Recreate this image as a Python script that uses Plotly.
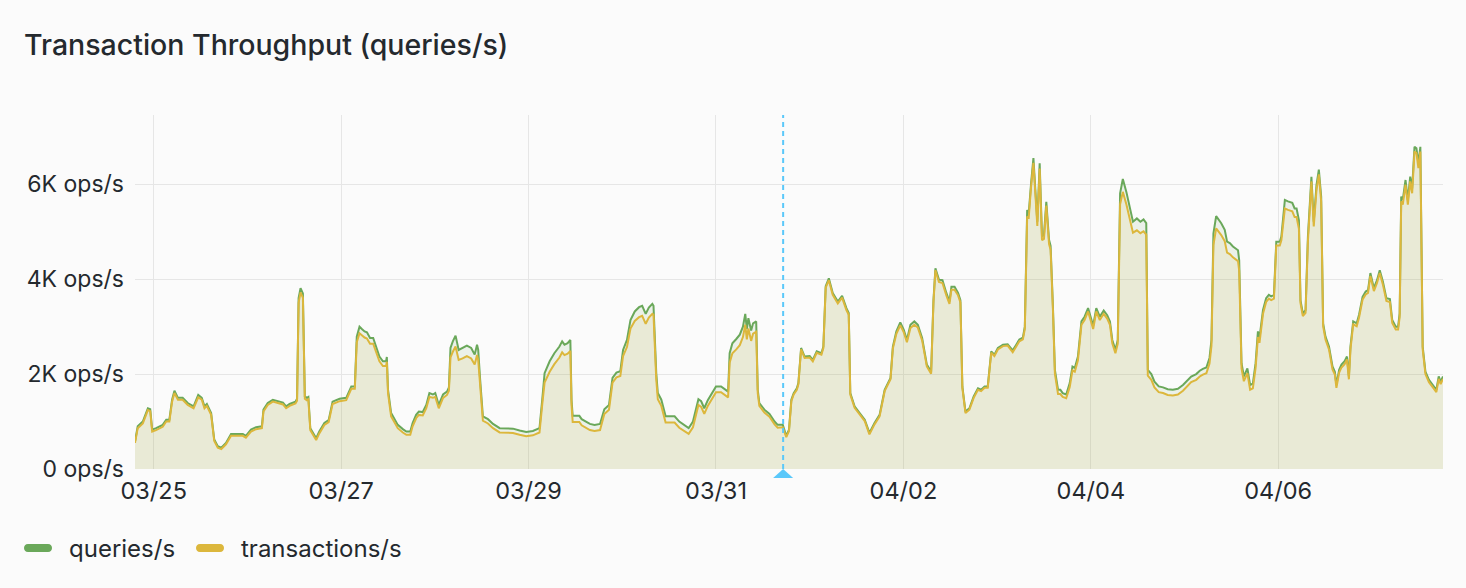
import pandas as pd
import plotly.graph_objects as go

# hours offset from 2024-03-25 00:00
hours = [-4.8, -4.1, -2.8, -1.5, -0.9, -0.4, 0.6, 2.3, 3.2, 4.0, 4.7, 5.3, 6.2, 7.4, 8.7, 10.2, 11.4, 12.3, 13.0, 13.6,
         14.7, 15.5, 16.4, 17.3, 18.5, 19.8, 21.1, 22.8, 23.6, 24.9, 26.2, 27.7, 28.1, 29.2, 30.5, 32.2, 33.1, 33.9, 34.8, 36.3,
         36.7, 37.1, 37.6, 38.2, 38.7, 39.2, 39.6, 40.1, 40.8, 41.6, 42.4, 43.7, 44.8, 45.8, 47.6, 49.3, 50.6, 51.5, 52.0, 52.7,
         53.3, 54.0, 54.6, 55.4, 56.2, 56.8, 57.8, 58.7, 59.5, 59.7, 60.0, 60.8, 61.7, 62.5, 63.8, 64.7, 65.7, 66.3, 67.2, 67.9,
         68.9, 69.8, 70.6, 71.5, 72.1, 73.0, 74.1, 75.1, 75.6, 76.0, 76.6, 77.3, 78.1, 79.1, 80.2, 81.3, 82.2, 82.8, 83.1, 83.6,
         84.3, 85.6, 86.9, 88.6, 90.3, 92.0, 93.7, 95.4, 97.1, 98.8, 99.5, 100.1, 101.4, 102.6, 103.9, 104.6, 105.2, 106.0, 106.7, 107.0,
         107.3, 109.0, 109.6, 110.8, 111.7, 112.9, 114.3, 115.4, 116.6, 117.5, 118.5, 119.5, 120.2, 121.2, 122.1, 123.2, 124.3, 125.1, 126.0, 126.8,
         127.7, 128.0, 128.3, 128.7, 129.1, 130.0, 131.1, 132.1, 133.4, 134.6, 135.9, 137.0, 138.1, 138.8, 139.5, 140.2, 141.0, 141.9, 143.2, 144.0,
         145.3, 146.6, 147.1, 147.5, 148.2, 149.2, 150.1, 150.9, 151.5, 151.9, 152.3, 153.0, 153.5, 154.3, 154.7, 155.1, 156.4, 157.7, 159.0, 159.8,
         161.1, 162.0, 162.7, 163.3, 163.9, 164.7, 165.1, 165.8, 166.7, 168.0, 168.8, 169.8, 171.0, 171.5, 172.1, 172.9, 173.9, 175.2, 176.3, 177.4,
         178.0, 178.4, 179.5, 180.8, 182.1, 183.3, 184.6, 185.9, 187.2, 188.7, 189.3, 190.2, 191.2, 192.1, 192.9, 193.8, 194.8, 195.7, 196.8, 198.0,
         199.1, 199.7, 200.2, 201.1, 202.0, 203.0, 203.8, 204.3, 205.1, 206.0, 206.6, 207.1, 207.9, 208.9, 210.0, 211.1, 211.9, 212.8, 213.6, 214.5,
         215.3, 216.2, 217.5, 218.7, 220.0, 220.9, 221.7, 222.6, 223.1, 223.7, 224.1, 224.7, 225.3, 225.8, 226.3, 226.9, 227.5, 228.0, 228.6, 229.3,
         229.7, 230.3, 230.8, 231.6, 232.2, 232.8, 233.7, 234.6, 235.3, 235.9, 236.7, 237.6, 238.4, 239.3, 239.9, 240.6, 241.4, 242.3, 243.3, 244.2,
         244.9, 245.5, 246.3, 246.9, 247.5, 248.2, 249.1, 249.9, 250.8, 251.8, 252.7, 253.5, 254.2, 254.6, 255.5, 256.3, 257.4, 258.5, 259.7, 261.0,
         262.3, 263.6, 264.8, 265.7, 267.0, 267.9, 268.7, 269.6, 270.4, 270.9, 271.4, 272.1, 273.4, 274.3, 274.9, 275.6, 276.4, 277.2, 277.7, 278.0,
         278.6, 279.2, 280.1, 280.8, 281.5, 282.2, 282.8, 283.2, 284.1, 284.9, 285.6, 286.2, 286.9, 287.5, 288.4, 288.8, 289.7, 290.5, 291.6, 292.2,
         292.7, 293.3, 293.7, 294.3, 295.0, 295.6, 296.5, 297.1, 297.8, 298.4, 299.0, 299.5, 300.1, 301.0, 301.9, 302.5, 302.9, 303.6, 304.2, 305.0,
         305.6, 306.1, 306.5, 307.2, 308.1, 308.7, 309.6, 310.4, 311.0, 311.6, 312.5, 313.3, 314.0, 314.8, 315.7, 316.6, 317.2, 318.1, 318.7, 319.1,
         319.5, 319.9, 320.6, 321.2, 321.8, 322.3, 322.9, 323.4, 323.9, 324.4, 324.6, 325.0, 325.7, 326.6, 327.6, 328.5, 329.1, 329.6, 330.2]

# queries/s in thousands
queries_k = [0.58, 0.90, 1.00, 1.28, 1.26, 0.83, 0.86, 0.93, 1.04, 1.04, 1.46, 1.65, 1.50, 1.50, 1.39, 1.32, 1.56, 1.50, 1.32, 1.37,
             1.18, 0.62, 0.48, 0.45, 0.55, 0.74, 0.74, 0.74, 0.70, 0.83, 0.88, 0.90, 1.25, 1.39, 1.46, 1.43, 1.40, 1.32, 1.37, 1.42,
             1.48, 3.60, 3.81, 3.70, 1.53, 1.50, 1.52, 0.86, 0.76, 0.65, 0.79, 0.97, 1.03, 1.42, 1.48, 1.50, 1.74, 1.74, 2.79, 3.00,
             2.95, 2.90, 2.88, 2.76, 2.76, 2.62, 2.37, 2.27, 2.27, 2.36, 1.67, 1.18, 1.04, 0.93, 0.84, 0.79, 0.79, 0.97, 1.14, 1.21,
             1.20, 1.35, 1.60, 1.57, 1.60, 1.35, 1.57, 1.63, 1.72, 2.55, 2.69, 2.81, 2.51, 2.55, 2.60, 2.55, 2.41, 2.62, 2.51, 1.88,
             1.11, 1.05, 0.95, 0.86, 0.86, 0.85, 0.81, 0.78, 0.80, 0.86, 1.46, 2.02, 2.27, 2.44, 2.58, 2.69, 2.62, 2.65, 2.72, 1.46,
             1.12, 1.12, 1.05, 1.00, 0.95, 0.93, 0.95, 1.26, 1.35, 1.92, 2.03, 2.06, 2.51, 2.72, 3.14, 3.32, 3.41, 3.44, 3.27, 3.40,
             3.48, 3.44, 2.72, 2.02, 1.60, 1.46, 1.11, 1.11, 1.11, 1.00, 0.93, 0.86, 1.00, 1.25, 1.47, 1.43, 1.28, 1.45, 1.63, 1.74,
             1.74, 1.65, 1.63, 2.44, 2.65, 2.74, 2.83, 3.00, 3.27, 2.95, 3.18, 2.92, 3.07, 3.11, 1.67, 1.39, 1.25, 1.16, 1.00, 0.93,
             0.93, 0.70, 0.83, 1.46, 1.60, 1.70, 1.81, 2.55, 2.37, 2.38, 2.30, 2.48, 2.44, 2.58, 3.85, 4.02, 3.71, 3.53, 3.65, 3.39,
             3.29, 1.60, 1.32, 1.18, 1.04, 0.76, 0.97, 1.14, 1.67, 1.92, 2.58, 2.90, 3.09, 2.93, 2.72, 3.04, 3.11, 3.04, 2.76, 2.20,
             2.05, 3.56, 4.23, 3.99, 3.98, 3.71, 3.53, 3.84, 3.84, 3.71, 3.56, 1.74, 1.21, 1.28, 1.53, 1.70, 1.67, 1.74, 1.74, 2.48,
             2.41, 2.55, 2.62, 2.63, 2.50, 2.62, 2.73, 2.77, 3.00, 5.46, 5.39, 6.02, 6.55, 5.88, 5.21, 6.44, 4.90, 4.93, 5.63, 4.83,
             4.70, 3.42, 2.09, 1.67, 1.67, 1.60, 1.57, 1.81, 2.16, 2.13, 2.37, 3.11, 3.21, 3.39, 3.21, 3.02, 3.39, 3.21, 3.34, 3.24,
             3.11, 2.72, 2.51, 2.72, 5.81, 6.11, 5.84, 5.56, 5.21, 5.28, 5.21, 5.26, 5.18, 2.09, 2.00, 1.84, 1.74, 1.72, 1.68, 1.67,
             1.69, 1.77, 1.88, 1.95, 2.00, 2.07, 2.11, 2.14, 2.34, 2.72, 4.96, 5.33, 5.18, 5.04, 4.79, 4.76, 4.69, 4.65, 4.61, 4.40,
             2.23, 1.95, 2.12, 1.77, 1.80, 2.23, 2.90, 2.76, 3.35, 3.60, 3.67, 3.64, 3.67, 4.79, 4.79, 4.90, 5.67, 5.64, 5.61, 5.49,
             5.49, 5.24, 3.56, 3.28, 3.35, 4.90, 6.16, 5.21, 5.98, 6.31, 5.74, 3.07, 2.79, 2.58, 2.16, 2.05, 1.77, 2.09, 2.20, 2.27,
             2.37, 1.95, 2.58, 3.11, 3.07, 3.25, 3.63, 3.74, 3.77, 4.13, 3.81, 3.98, 4.19, 3.95, 3.60, 3.58, 3.14, 3.00, 3.00, 3.28,
             5.74, 5.67, 6.09, 5.67, 6.16, 5.91, 6.79, 6.76, 6.44, 6.79, 5.04, 2.58, 2.05, 1.88, 1.77, 1.67, 1.95, 1.84, 1.95]

# transactions/s in thousands
transactions_k = [0.55, 0.86, 0.96, 1.24, 1.22, 0.79, 0.82, 0.89, 1.00, 1.00, 1.42, 1.60, 1.46, 1.46, 1.35, 1.28, 1.51, 1.46, 1.28, 1.33,
                  1.14, 0.59, 0.45, 0.42, 0.52, 0.70, 0.70, 0.70, 0.66, 0.79, 0.84, 0.86, 1.21, 1.35, 1.42, 1.39, 1.36, 1.28, 1.33, 1.38,
                  1.44, 3.50, 3.72, 3.61, 1.48, 1.45, 1.47, 0.82, 0.72, 0.61, 0.75, 0.93, 0.99, 1.37, 1.43, 1.45, 1.69, 1.69, 2.67, 2.86,
                  2.82, 2.77, 2.75, 2.64, 2.64, 2.51, 2.27, 2.17, 2.17, 2.26, 1.60, 1.11, 0.97, 0.86, 0.77, 0.72, 0.72, 0.90, 1.07, 1.14,
                  1.13, 1.28, 1.52, 1.50, 1.52, 1.28, 1.50, 1.56, 1.65, 2.35, 2.47, 2.58, 2.30, 2.33, 2.38, 2.33, 2.20, 2.40, 2.30, 1.78,
                  1.02, 0.96, 0.86, 0.77, 0.77, 0.76, 0.72, 0.69, 0.71, 0.77, 1.36, 1.82, 2.05, 2.21, 2.35, 2.46, 2.40, 2.43, 2.49, 1.35,
                  0.99, 0.99, 0.92, 0.87, 0.82, 0.80, 0.82, 1.16, 1.25, 1.82, 1.93, 1.96, 2.38, 2.57, 2.96, 3.12, 3.20, 3.23, 3.06, 3.19,
                  3.27, 3.25, 2.58, 1.89, 1.47, 1.33, 0.98, 0.98, 0.98, 0.87, 0.80, 0.74, 0.88, 1.13, 1.35, 1.31, 1.16, 1.33, 1.51, 1.62,
                  1.62, 1.53, 1.51, 2.24, 2.44, 2.52, 2.61, 2.78, 3.04, 2.73, 2.96, 2.70, 2.85, 2.89, 1.60, 1.33, 1.19, 1.10, 0.94, 0.87,
                  0.88, 0.67, 0.80, 1.43, 1.57, 1.67, 1.78, 2.52, 2.34, 2.35, 2.27, 2.45, 2.41, 2.55, 3.82, 3.98, 3.67, 3.49, 3.61, 3.35,
                  3.25, 1.57, 1.29, 1.15, 1.01, 0.73, 0.94, 1.11, 1.64, 1.89, 2.54, 2.85, 3.03, 2.88, 2.67, 2.97, 3.04, 2.98, 2.71, 2.16,
                  2.01, 3.52, 4.19, 3.94, 3.92, 3.66, 3.48, 3.78, 3.78, 3.66, 3.51, 1.71, 1.18, 1.25, 1.50, 1.67, 1.64, 1.71, 1.71, 2.45,
                  2.38, 2.52, 2.59, 2.60, 2.46, 2.58, 2.69, 2.73, 2.95, 5.32, 5.30, 5.95, 6.45, 5.80, 5.12, 6.33, 4.82, 4.85, 5.55, 4.74,
                  4.62, 3.35, 2.01, 1.58, 1.58, 1.52, 1.49, 1.73, 2.08, 2.05, 2.29, 3.04, 3.14, 3.32, 3.14, 2.95, 3.32, 3.14, 3.27, 3.17,
                  3.04, 2.65, 2.44, 2.64, 5.58, 5.84, 5.58, 5.32, 4.98, 5.03, 4.97, 5.01, 4.94, 1.97, 1.88, 1.72, 1.62, 1.60, 1.56, 1.55,
                  1.57, 1.65, 1.76, 1.83, 1.88, 1.95, 1.99, 2.02, 2.22, 2.60, 4.72, 5.07, 4.93, 4.80, 4.56, 4.53, 4.46, 4.42, 4.38, 4.18,
                  2.12, 1.85, 2.02, 1.67, 1.70, 2.13, 2.78, 2.66, 3.27, 3.52, 3.59, 3.56, 3.59, 4.71, 4.71, 4.82, 5.49, 5.46, 5.43, 5.31,
                  5.31, 5.06, 3.50, 3.22, 3.29, 4.80, 6.06, 5.11, 5.88, 6.21, 5.64, 3.01, 2.73, 2.52, 2.10, 1.99, 1.71, 2.03, 2.14, 2.21,
                  2.31, 1.89, 2.52, 3.05, 3.01, 3.19, 3.57, 3.68, 3.71, 4.07, 3.75, 3.92, 4.13, 3.89, 3.54, 3.52, 3.08, 2.94, 2.94, 3.20,
                  5.64, 5.57, 5.99, 5.57, 6.06, 5.81, 6.69, 6.66, 6.34, 6.69, 4.95, 2.52, 2.00, 1.83, 1.72, 1.62, 1.90, 1.79, 1.90]

x_ticks = ["2024-03-25", "2024-03-27", "2024-03-29", "2024-03-31", "2024-04-02", "2024-04-04", "2024-04-06"]
x_tick_labels = ["03/25", "03/27", "03/29", "03/31", "04/02", "04/04", "04/06"]
y_ticks = [0, 2000, 4000, 6000]
y_tick_labels = ["0 ops/s", "2K ops/s", "4K ops/s", "6K ops/s"]
annotation_hour = 161.2

base = pd.Timestamp("2024-03-25 00:00")
times = [base + pd.Timedelta(hours=h) for h in hours]
queries = [v * 1000 for v in queries_k]
transactions = [v * 1000 for v in transactions_k]
ann_time = base + pd.Timedelta(hours=annotation_hour)

GREEN = "#6aa85a"
YELLOW = "#dcb73c"
TEXT = "#24292e"
BG = "#fbfbfb"
FONT = "Inter, 'Open Sans', sans-serif"

fig = go.Figure()
fig.add_trace(go.Scatter(x=times, y=queries, mode="lines", name="queries/s",
                         line=dict(color=GREEN, width=2), fill="tozeroy",
                         fillcolor="rgba(106,168,90,0.11)", showlegend=False))
fig.add_trace(go.Scatter(x=times, y=transactions, mode="lines", name="transactions/s",
                         line=dict(color=YELLOW, width=2), fill="tozeroy",
                         fillcolor="rgba(220,183,60,0.11)", showlegend=False))

W, H = 1466, 588
L, R, T, B = 135, 23, 115, 119
pw, ph = W - L - R, H - T - B

def px_x(px):
    return (px - L) / pw

def px_y(py):
    return (H - B - py) / ph

shapes = [
    dict(type="line", xref="x", yref="paper", x0=ann_time, x1=ann_time, y0=0, y1=1,
         line=dict(color="#5ac8fa", width=2, dash="5px,4px"), layer="above"),
    dict(type="path", xref="x", yref="paper", xsizemode="pixel", ysizemode="pixel",
         xanchor=ann_time, yanchor=0,
         path="M -10,-9 L 10,-9 L 0,0 Z", fillcolor="#5ac8fa", line=dict(width=0), layer="above"),
]

def pill(left_px, center_py, color):
    x0 = left_px - L
    x1 = x0 + 28
    yc = -(center_py - (H - B))
    top, bot = yc + 4, yc - 4
    a, b = x0 + 4, x1 - 4
    path = (f"M {a},{top} L {b},{top} C {b+5.33},{top} {b+5.33},{bot} {b},{bot} "
            f"L {a},{bot} C {a-5.33},{bot} {a-5.33},{top} {a},{top} Z")
    return dict(type="path", xref="paper", yref="paper", xsizemode="pixel", ysizemode="pixel",
                xanchor=0, yanchor=0, path=path, fillcolor=color, line=dict(width=0))

shapes.append(pill(24, 548, GREEN))
shapes.append(pill(196, 548, YELLOW))

annotations = [
    dict(text="Transaction Throughput (queries/s)", xref="paper", yref="paper",
         x=px_x(22), y=px_y(45), xanchor="left", yanchor="middle", showarrow=False,
         font=dict(family=FONT, size=28.5, color=TEXT, weight=500)),
    dict(text="queries/s", xref="paper", yref="paper", x=px_x(67), y=px_y(548),
         xanchor="left", yanchor="middle", showarrow=False,
         font=dict(family=FONT, size=24, color=TEXT)),
    dict(text="transactions/s", xref="paper", yref="paper", x=px_x(239), y=px_y(548),
         xanchor="left", yanchor="middle", showarrow=False,
         font=dict(family=FONT, size=24, color=TEXT)),
]

fig.update_layout(
    width=W, height=H,
    margin=dict(l=L, r=R, t=T, b=B, pad=0),
    paper_bgcolor=BG, plot_bgcolor=BG,
    shapes=shapes, annotations=annotations,
    showlegend=False,
    xaxis=dict(range=[times[0], times[-1]], tickvals=x_ticks, ticktext=x_tick_labels,
               showgrid=True, gridcolor="#e6e6e6", gridwidth=1, zeroline=False,
               showline=False, ticks="", ticklabelstandoff=5,
               tickfont=dict(family=FONT, size=23.5, color=TEXT)),
    yaxis=dict(range=[0, 7460], tickvals=y_ticks, ticktext=y_tick_labels,
               showgrid=True, gridcolor="#e6e6e6", gridwidth=1, zeroline=False,
               showline=False, ticks="", ticklabelstandoff=10,
               tickfont=dict(family=FONT, size=23, color=TEXT)),
    font=dict(family=FONT, color=TEXT),
)

fig.write_html("out.html")
